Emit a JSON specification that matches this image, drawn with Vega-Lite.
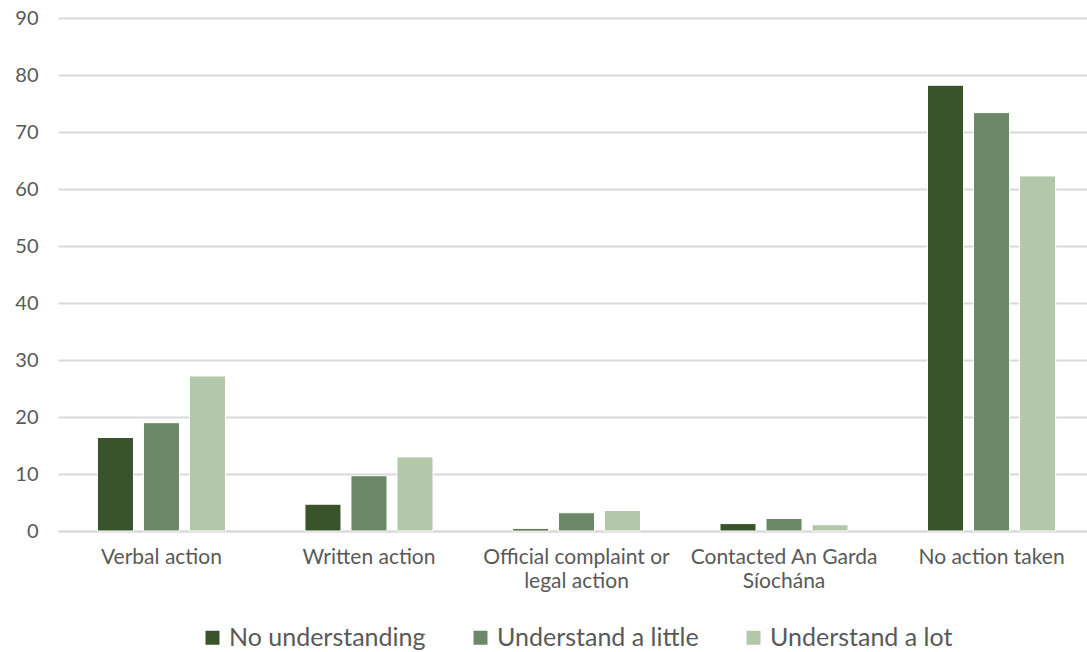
{
  "$schema": "https://vega.github.io/schema/vega-lite/v6.json",
  "width": 1037,
  "height": 513,
  "autosize": {"type": "none"},
  "padding": {"left": 58, "top": 18, "right": 0, "bottom": 121},
  "background": "white",
  "config": {
    "font": "Lato",
    "view": {"stroke": null},
    "axis": {"labelFont": "Lato", "labelColor": "#595959"},
    "legend": {
      "labelFont": "Lato",
      "labelColor": "#595959",
      "layout": {"bottom": {"anchor": "middle", "direction": "horizontal"}}
    }
  },
  "data": {
    "values": [
      {"action": "Verbal action", "group": "No understanding", "pct": 16.4},
      {"action": "Verbal action", "group": "Understand a little", "pct": 19.0},
      {"action": "Verbal action", "group": "Understand a lot", "pct": 27.2},
      {"action": "Written action", "group": "No understanding", "pct": 4.7},
      {"action": "Written action", "group": "Understand a little", "pct": 9.7},
      {"action": "Written action", "group": "Understand a lot", "pct": 13.0},
      {"action": "Official complaint or legal action", "group": "No understanding", "pct": 0.4},
      {"action": "Official complaint or legal action", "group": "Understand a little", "pct": 3.2},
      {"action": "Official complaint or legal action", "group": "Understand a lot", "pct": 3.6},
      {"action": "Contacted An Garda Síochána", "group": "No understanding", "pct": 1.3},
      {"action": "Contacted An Garda Síochána", "group": "Understand a little", "pct": 2.2},
      {"action": "Contacted An Garda Síochána", "group": "Understand a lot", "pct": 1.1},
      {"action": "No action taken", "group": "No understanding", "pct": 78.2},
      {"action": "No action taken", "group": "Understand a little", "pct": 73.4},
      {"action": "No action taken", "group": "Understand a lot", "pct": 62.3}
    ]
  },
  "mark": {"type": "bar", "stroke": "white", "strokeWidth": 1},
  "encoding": {
    "x": {
      "field": "action",
      "type": "nominal",
      "sort": null,
      "title": null,
      "scale": {"paddingInner": 0.383, "paddingOuter": 0.19},
      "axis": {
        "labelAngle": 0,
        "labelFontSize": 21,
        "labelPadding": 15,
        "labelLineHeight": 24,
        "labelBaseline": "top",
        "labelLimit": 300,
        "ticks": false,
        "domain": true,
        "domainColor": "#d9d9d9",
        "domainWidth": 2,
        "labelExpr": "datum.value == 'Official complaint or legal action' ? ['Official complaint or', 'legal action'] : datum.value == 'Contacted An Garda Síochána' ? ['Contacted An Garda', 'Síochána'] : datum.value"
      }
    },
    "xOffset": {
      "field": "group",
      "type": "nominal",
      "sort": null,
      "scale": {"paddingInner": 0.217, "paddingOuter": 0}
    },
    "y": {
      "field": "pct",
      "type": "quantitative",
      "title": null,
      "scale": {"domain": [0, 90]},
      "axis": {
        "values": [0, 10, 20, 30, 40, 50, 60, 70, 80, 90],
        "labelFontSize": 20,
        "labelPadding": 20,
        "ticks": false,
        "domain": false,
        "gridColor": "#d9d9d9",
        "gridWidth": 2
      }
    },
    "color": {
      "field": "group",
      "type": "nominal",
      "sort": null,
      "scale": {
        "domain": ["No understanding", "Understand a little", "Understand a lot"],
        "range": ["#3a532b", "#6d8769", "#b3c7ab"]
      },
      "legend": {
        "title": null,
        "orient": "bottom",
        "direction": "horizontal",
        "symbolType": "square",
        "symbolSize": 196,
        "symbolStrokeWidth": 0,
        "labelFontSize": 25,
        "labelOffset": 4,
        "labelLimit": 400,
        "columnPadding": 42,
        "offset": 34
      }
    }
  }
}
